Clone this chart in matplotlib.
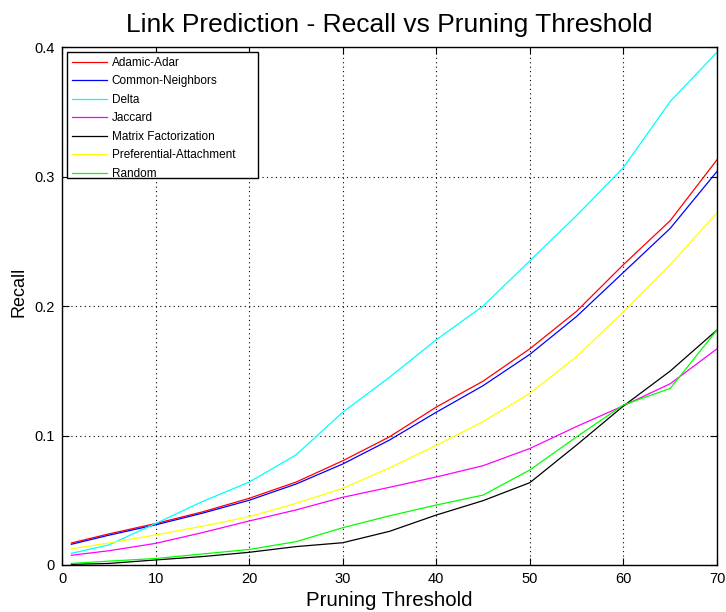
import matplotlib
matplotlib.use('Agg')
import matplotlib.pyplot as plt
from matplotlib.patches import Rectangle
from matplotlib.ticker import FuncFormatter

plt.rcParams['font.family'] = ['Liberation Sans', 'DejaVu Sans']

# Pruning threshold values
thresholds = [1, 5, 10, 15, 20, 25, 30, 35, 40, 45, 50, 55, 60, 65, 70]

# Recall per method
adamic_adar = [0.017, 0.024, 0.032, 0.041, 0.0515, 0.064, 0.0805, 0.099, 0.122, 0.142, 0.167, 0.196, 0.232, 0.266, 0.313]
common_neighbors = [0.016, 0.023, 0.031, 0.040, 0.050, 0.0625, 0.078, 0.0965, 0.118, 0.1385, 0.1627, 0.192, 0.226, 0.260, 0.304]
delta = [0.009, 0.0155, 0.032, 0.049, 0.064, 0.085, 0.118, 0.145, 0.174, 0.200, 0.235, 0.270, 0.307, 0.358, 0.396]
jaccard = [0.0075, 0.011, 0.0167, 0.025, 0.034, 0.0425, 0.0523, 0.060, 0.068, 0.0767, 0.090, 0.107, 0.123, 0.140, 0.167]
matrix_fact = [0.0005, 0.0012, 0.0039, 0.0065, 0.0098, 0.0142, 0.0172, 0.026, 0.0386, 0.0497, 0.0636, 0.0927, 0.1228, 0.1498, 0.1815]
pref_attach = [0.0125, 0.017, 0.0232, 0.030, 0.0373, 0.0476, 0.0592, 0.075, 0.0924, 0.1107, 0.1326, 0.161, 0.1956, 0.232, 0.272]
random_pred = [0.0012, 0.003, 0.005, 0.0085, 0.012, 0.018, 0.0288, 0.038, 0.0463, 0.054, 0.0734, 0.099, 0.1236, 0.1364, 0.1815]

labels = ['Adamic-Adar', 'Common-Neighbors', 'Delta', 'Jaccard',
          'Matrix Factorization', 'Preferential-Attachment', 'Random']
series = [adamic_adar, common_neighbors, delta, jaccard, matrix_fact, pref_attach, random_pred]
colors = ['#ff0000', '#0000ff', '#00ffff', '#ff00ff', '#000000', '#ffff00', '#00ff00']

fig = plt.figure(figsize=(7.26, 6.12), dpi=100)
ax = fig.add_axes([0.0854, 0.0768, 0.9022, 0.8462])

for vals, lab, col in zip(series, labels, colors):
    ax.plot(thresholds, vals, color=col, linewidth=0.9, label=lab)

ax.set_xlim(0, 70)
ax.set_ylim(0, 0.4)
ax.set_xticks(range(0, 71, 10))
ax.set_yticks([0, 0.1, 0.2, 0.3, 0.4])
ax.yaxis.set_major_formatter(FuncFormatter(lambda v, p: '0' if v == 0 else f'{v:g}'))
ax.tick_params(direction='in', top=True, right=True, length=5, labelsize=10.5, pad=5)
ax.grid(True, color='black', linestyle=(0, (1, 3)), linewidth=0.8)
for sp in ax.spines.values():
    sp.set_linewidth(1.0)

ax.set_title('Link Prediction - Recall vs Pruning Threshold', fontsize=19, pad=11)
ax.set_xlabel('Pruning Threshold', fontsize=14.7, labelpad=4)
ax.set_ylabel('Recall', fontsize=13)
ax.yaxis.set_label_coords(-0.053, 0.528)

# legend without its own frame; a wider MATLAB-like box drawn behind it
leg = ax.legend(loc='upper left', fontsize=8.5, frameon=False,
                borderpad=0.4, labelspacing=0.55,
                handlelength=3.0, handletextpad=0.4, borderaxespad=0.42)
leg.set_zorder(6)
box = Rectangle((0.0076, 0.747), 0.291, 0.243, transform=ax.transAxes,
                facecolor='white', edgecolor='black', linewidth=1.0, zorder=5)
ax.add_patch(box)

fig.savefig('out.png', dpi=100)
